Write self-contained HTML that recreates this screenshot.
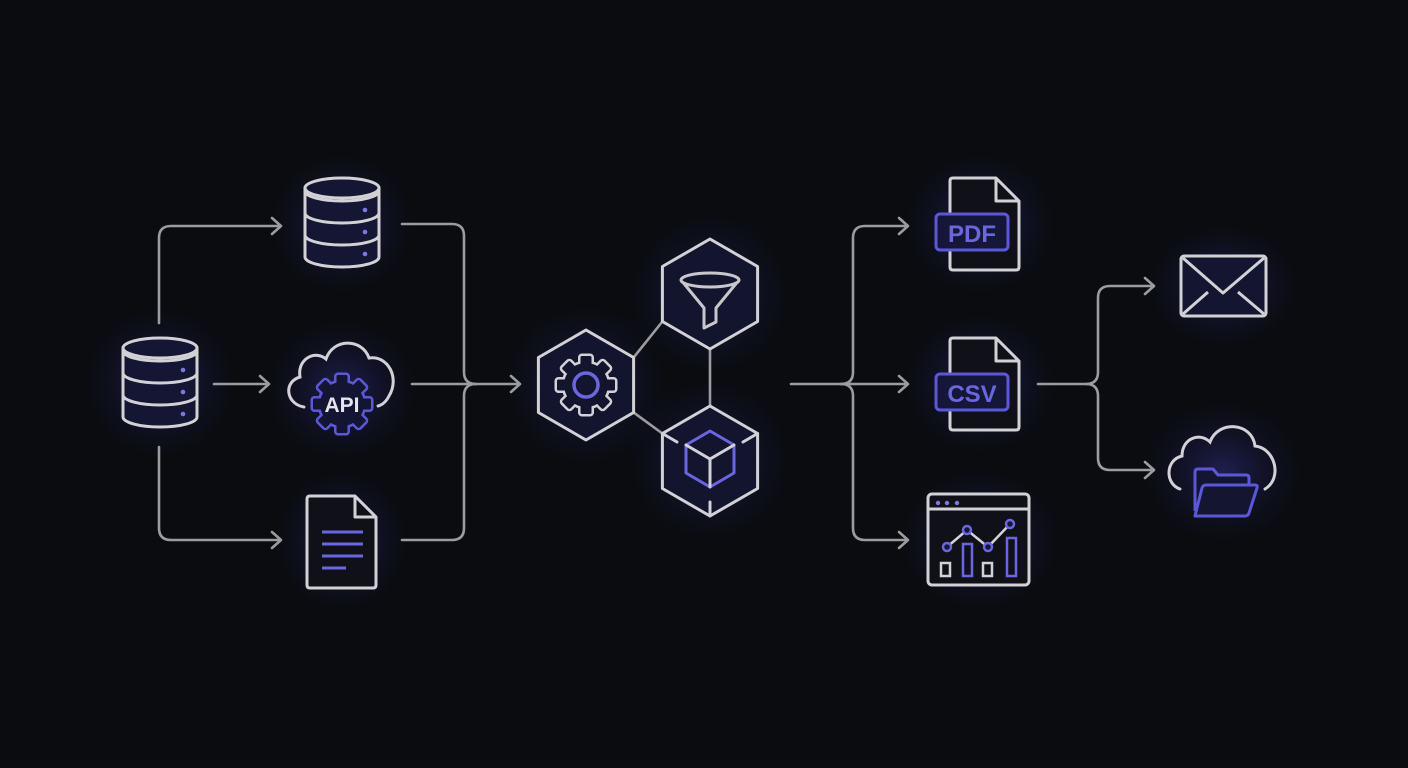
<!DOCTYPE html>
<html><head><meta charset="utf-8"><style>
html,body{margin:0;padding:0;background:#0a0c0f;}
svg{display:block}
</style></head><body>
<svg width="1408" height="768" viewBox="0 0 1408 768" xmlns="http://www.w3.org/2000/svg">
<defs>
<radialGradient id="glow"><stop offset="0" stop-color="#3a36a0" stop-opacity="0.45"/><stop offset="0.6" stop-color="#2a2880" stop-opacity="0.15"/><stop offset="1" stop-color="#1a1860" stop-opacity="0"/></radialGradient>
<g id="gearS"><circle r="22"/>
<rect x="-5.5" y="-29" width="11" height="10" rx="1.5"/>
<rect x="-5.5" y="-29" width="11" height="10" rx="1.5" transform="rotate(45)"/>
<rect x="-5.5" y="-29" width="11" height="10" rx="1.5" transform="rotate(90)"/>
<rect x="-5.5" y="-29" width="11" height="10" rx="1.5" transform="rotate(135)"/>
<rect x="-5.5" y="-29" width="11" height="10" rx="1.5" transform="rotate(180)"/>
<rect x="-5.5" y="-29" width="11" height="10" rx="1.5" transform="rotate(225)"/>
<rect x="-5.5" y="-29" width="11" height="10" rx="1.5" transform="rotate(270)"/>
<rect x="-5.5" y="-29" width="11" height="10" rx="1.5" transform="rotate(315)"/>
</g>
</defs>
<rect width="1408" height="768" fill="#0a0c0f"/>
<!-- glows -->
<g>
<ellipse cx="160" cy="383" rx="80" ry="80" fill="url(#glow)"/>
<ellipse cx="342" cy="224" rx="75" ry="75" fill="url(#glow)"/>
<ellipse cx="342" cy="390" rx="80" ry="75" fill="url(#glow)"/>
<ellipse cx="342" cy="541" rx="70" ry="75" fill="url(#glow)"/>
<ellipse cx="586" cy="385" rx="85" ry="85" fill="url(#glow)"/>
<ellipse cx="710" cy="294" rx="85" ry="85" fill="url(#glow)"/>
<ellipse cx="710" cy="461" rx="85" ry="85" fill="url(#glow)"/>
<ellipse cx="980" cy="224" rx="80" ry="75" fill="url(#glow)"/>
<ellipse cx="980" cy="384" rx="80" ry="75" fill="url(#glow)"/>
<ellipse cx="980" cy="540" rx="85" ry="75" fill="url(#glow)"/>
<ellipse cx="1223" cy="286" rx="80" ry="65" fill="url(#glow)"/>
<ellipse cx="1223" cy="472" rx="85" ry="75" fill="url(#glow)"/>
</g>
<!-- connectors -->
<g fill="none" stroke="#9c9c9f" stroke-width="2.6" stroke-linecap="round" stroke-linejoin="round">
<path d="M159,323 V238 Q159,226 171,226 H280"/><path d="M272,218 L281,226 L272,234"/>
<path d="M159,447 V528 Q159,540 171,540 H280"/><path d="M272,532 L281,540 L272,548"/>
<path d="M214,384 H268"/><path d="M260,376 L269,384 L260,392"/>
<path d="M402,224 H452 Q464,224 464,236 V372 Q464,384 476,384"/>
<path d="M402,540 H452 Q464,540 464,528 V396 Q464,384 476,384"/>
<path d="M412,384 H519"/><path d="M511,376 L520,384 L511,392"/>
<path d="M791,384 H907"/><path d="M899,376 L908,384 L899,392"/>
<path d="M841,384 Q853,384 853,372 V238 Q853,226 865,226 H907"/><path d="M899,218 L908,226 L899,234"/>
<path d="M841,384 Q853,384 853,396 V528 Q853,540 865,540 H907"/><path d="M899,532 L908,540 L899,548"/>
<path d="M1038,384 H1086 Q1098,384 1098,372 V298 Q1098,286 1110,286 H1153"/><path d="M1145,278 L1154,286 L1145,294"/>
<path d="M1086,384 Q1098,384 1098,396 V458 Q1098,470 1110,470 H1153"/><path d="M1145,462 L1154,470 L1145,478"/>
<path d="M633.6,357.5 L662.4,321.5 M710,349 L710,406 M633.6,412.5 L662.4,433.5"/>
</g>
<!-- databases -->
<g stroke="#d2d2d6" stroke-width="3" fill="#151634">
<g id="db">
<path d="M123,348 V417 A37,10 0 0 0 197,417 V348 Z"/>
<ellipse cx="160" cy="348" rx="37" ry="10"/>
<path d="M123,351 A37,10 0 0 0 197,351 M123,373 A37,10 0 0 0 197,373 M123,395 A37,10 0 0 0 197,395" fill="none"/>
<circle cx="183" cy="370" r="2.3" fill="#7b78e6" stroke="none"/>
<circle cx="183" cy="392" r="2.3" fill="#7b78e6" stroke="none"/>
<circle cx="183" cy="414" r="2.3" fill="#7b78e6" stroke="none"/>
</g>
<use href="#db" transform="translate(182,-160)"/>
</g>
<!-- API cloud -->
<path d="M304,407 C286,404 283,382 300,377 C297,358 316,350 326,359 C333,338 362,338 369,358 C388,355 400,378 389,396 C386,402 382,405 378,406" fill="none" stroke="#d2d2d6" stroke-width="3" stroke-linecap="round"/>
<g transform="translate(342,404)">
<use href="#gearS" fill="#5b58d8" stroke="#5b58d8" stroke-width="5"/>
<use href="#gearS" fill="#141533"/>
</g>
<text x="342" y="412" text-anchor="middle" font-family="Liberation Sans, sans-serif" font-weight="bold" font-size="21" fill="#e4e4ea">API</text>
<!-- input doc -->
<path d="M310,496 H355 L376,517 V585 Q376,588 373,588 H310 Q307,588 307,585 V499 Q307,496 310,496 Z" fill="#0f1018" stroke="#d2d2d6" stroke-width="3" stroke-linejoin="round"/>
<path d="M355,496 V517 H376" fill="none" stroke="#d2d2d6" stroke-width="3" stroke-linejoin="round"/>
<path d="M322,532 H363 M322,544 H363 M322,556 H363 M322,568 H346" stroke="#6a66e0" stroke-width="3"/>
<!-- hexagons -->
<g stroke="#d2d2d6" stroke-width="3" fill="#13142e" stroke-linejoin="round">
<polygon points="586,330 633.6,357.5 633.6,412.5 586,440 538.4,412.5 538.4,357.5"/>
<polygon points="710,239 757.6,266.5 757.6,321.5 710,349 662.4,321.5 662.4,266.5"/>
<polygon points="710,406 757.6,433.5 757.6,488.5 710,516 662.4,488.5 662.4,433.5"/>
</g>
<g transform="translate(586,385)">
<use href="#gearS" fill="#d2d2d6" stroke="#d2d2d6" stroke-width="5"/>
<use href="#gearS" fill="#13142e"/>
<circle r="12" fill="none" stroke="#6a66e0" stroke-width="3.5"/>
</g>
<!-- funnel -->
<path d="M681,280 L704,308 V328 L716,322 V308 L739,280" fill="#13142e" stroke="#c8c8cc" stroke-width="3" stroke-linejoin="round"/>
<ellipse cx="710" cy="280" rx="29" ry="7" fill="#13142e" stroke="#c8c8cc" stroke-width="3"/>
<!-- cube -->
<polygon points="710,431 734,445 734,473 710,487 686,473 686,445" fill="none" stroke="#6a66e0" stroke-width="3" stroke-linejoin="round"/>
<path d="M686,445 L710,459 L734,445 M710,459 V487 M662.4,433.5 L677,442 M757.6,433.5 L743,442 M710,516 V502" fill="none" stroke="#d2d2d6" stroke-width="3" stroke-linecap="round"/>
<!-- PDF / CSV docs -->
<g id="pdoc">
<path d="M953,178 H996 L1019,201 V267 Q1019,270 1016,270 H953 Q950,270 950,267 V181 Q950,178 953,178 Z" fill="#0f1018" stroke="#d2d2d6" stroke-width="3" stroke-linejoin="round"/>
<path d="M996,178 V201 H1019" fill="none" stroke="#d2d2d6" stroke-width="3" stroke-linejoin="round"/>
<rect x="936" y="214" width="72" height="36" rx="4" fill="#161738" stroke="#5b58d8" stroke-width="3"/>
</g>
<text x="972" y="242" text-anchor="middle" font-family="Liberation Sans, sans-serif" font-weight="bold" font-size="24" fill="#6a66e0">PDF</text>
<use href="#pdoc" transform="translate(0,160)"/>
<text x="972" y="402" text-anchor="middle" font-family="Liberation Sans, sans-serif" font-weight="bold" font-size="24" fill="#6a66e0">CSV</text>
<!-- dashboard -->
<rect x="928" y="494" width="101" height="91" rx="4" fill="#0f1018" stroke="#d2d2d6" stroke-width="3"/>
<path d="M928,509 H1029" stroke="#d2d2d6" stroke-width="3"/>
<circle cx="938" cy="503" r="2.2" fill="#7b78e6"/><circle cx="947" cy="503" r="2.2" fill="#7b78e6"/><circle cx="957" cy="503" r="2.2" fill="#7b78e6"/>
<rect x="941" y="563" width="9" height="13" fill="none" stroke="#d2d2d6" stroke-width="2.5"/>
<rect x="963" y="544" width="9" height="32" fill="none" stroke="#6a66e0" stroke-width="2.5"/>
<rect x="983" y="563" width="9" height="13" fill="none" stroke="#d2d2d6" stroke-width="2.5"/>
<rect x="1007" y="538" width="9" height="38" fill="none" stroke="#6a66e0" stroke-width="2.5"/>
<path d="M947,547 L967,530 L988,547 L1010,524" fill="none" stroke="#d2d2d6" stroke-width="2.5"/>
<g fill="#161738" stroke="#6a66e0" stroke-width="2.5"><circle cx="947" cy="547" r="4"/><circle cx="967" cy="530" r="4"/><circle cx="988" cy="547" r="4"/><circle cx="1010" cy="524" r="4"/></g>
<!-- email -->
<rect x="1181" y="256" width="85" height="60" rx="3" fill="#141530" stroke="#d2d2d6" stroke-width="3"/>
<path d="M1183,258 L1223,293 L1264,258 M1183,314 L1208,292 M1264,314 L1238,292" fill="none" stroke="#d2d2d6" stroke-width="3" stroke-linejoin="round"/>
<!-- cloud folder -->
<path d="M1180,489 C1165,484 1165,460 1182,456 C1182,438 1200,432 1210,442 C1218,420 1252,422 1255,446 C1275,448 1283,478 1265,489" fill="none" stroke="#d2d2d6" stroke-width="3" stroke-linecap="round"/>
<path d="M1195,511 V472 Q1195,469 1198,469 H1213 L1218,475 H1246 Q1249,475 1249,478 V485" fill="#141530" stroke="#5b58d8" stroke-width="3" stroke-linejoin="round"/>
<path d="M1195,516 L1202,488 Q1203,485 1206,485 H1255 Q1258,485 1257,488 L1249,513 Q1248,516 1245,516 Z" fill="#141530" stroke="#5b58d8" stroke-width="3" stroke-linejoin="round"/>
</svg>
</body></html>
